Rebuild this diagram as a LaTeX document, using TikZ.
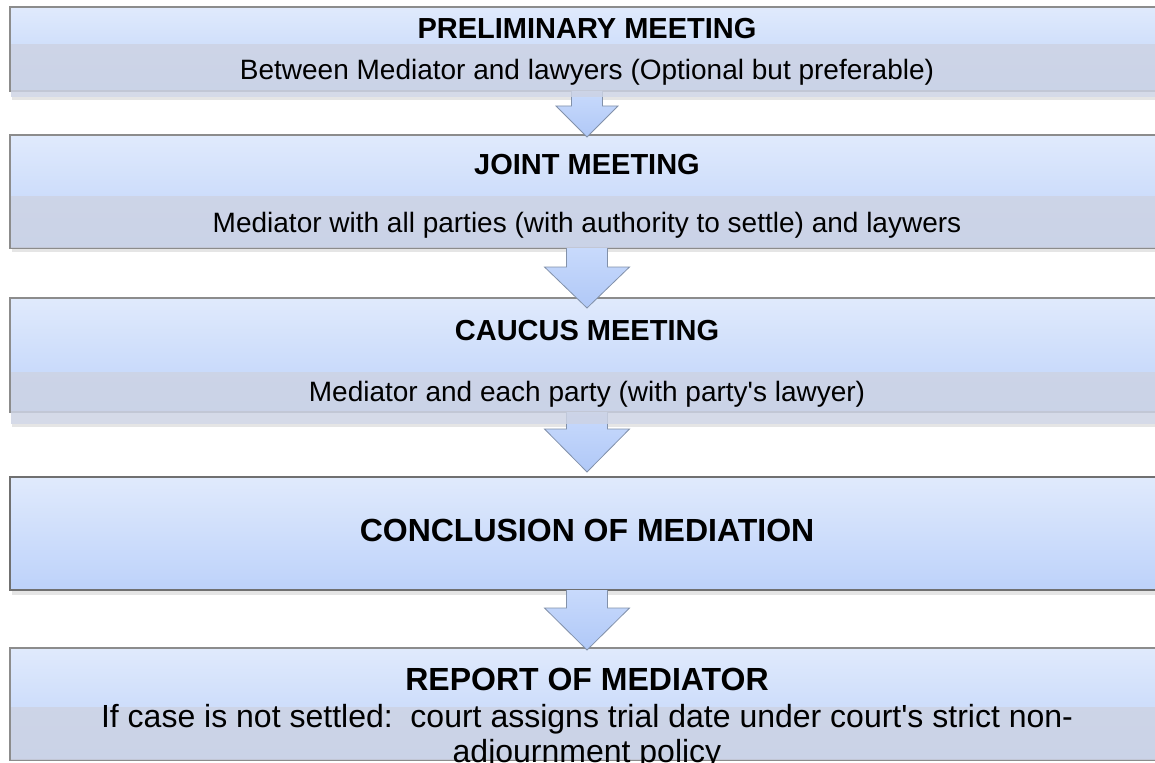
\documentclass[tikz,border=0pt]{standalone}
\usepackage{fontspec}
\setmainfont{Liberation Sans}
\usetikzlibrary{calc}
\definecolor{boxtop}{RGB}{224,234,252}
\definecolor{boxbot}{RGB}{189,210,250}
\definecolor{lowfill}{RGB}{205,211,228}
\definecolor{edgegray}{RGB}{140,140,140}
\definecolor{arrtop}{RGB}{200,218,252}
\definecolor{arrbot}{RGB}{176,200,247}
\definecolor{arredge}{RGB}{130,145,170}
\begin{document}
\begin{tikzpicture}[x=1pt,y=-1pt,
  outerbox/.style={rectangle, anchor=north west, inner sep=0pt, outer sep=0pt,
    minimum width=1154pt, top color=boxtop, bottom color=boxbot,
    draw=edgegray, line width=1.2pt},
  lowerbox/.style={rectangle, anchor=north west, inner sep=0pt, outer sep=0pt,
    minimum width=1153pt, fill=lowfill, fill opacity=0.84},
  shade/.style={fill=black, opacity=0.10},
  blockarrow/.style={top color=arrtop, bottom color=arrbot, draw=arredge,
    line width=0.8pt, line join=miter},
  title/.style={anchor=base, inner sep=0pt, font=\fontsize{29}{32}\selectfont\bfseries},
  bigtitle/.style={anchor=base, inner sep=0pt, font=\fontsize{32}{36}\selectfont\bfseries},
  body/.style={anchor=base, inner sep=0pt, font=\fontsize{28}{32}\selectfont},
  bigbody/.style={anchor=base, inner sep=0pt, align=center,
    font=\fontsize{32}{35}\selectfont},
]
\useasboundingbox (0,0) rectangle (1155,762);
\fill[white] (0,0) rectangle (1155,762);
\clip (0,0) rectangle (1155,762);

% shadows
\fill[shade] (12,97) rectangle (1164,100);
\fill[shade] (12,248) rectangle (1164,252);
\fill[shade] (12,424) rectangle (1164,427);
\fill[shade] (12,590) rectangle (1164,595);

% outer boxes
\node[outerbox, minimum height=84pt]  (b1) at (10,7)   {};
\node[outerbox, minimum height=113pt] (b2) at (10,135) {};
\node[outerbox, minimum height=114pt] (b3) at (10,298) {};
\node[outerbox, minimum height=113pt, draw=edgegray!80!black, line width=1.8pt] (b4) at (10,477) {};
\node[outerbox, minimum height=112pt] (b5) at (10,648) {};

% block arrows
\draw[blockarrow] ($(b1.south)+(-15.5,0)$) -- ($(b1.south)+(-15.5,15)$) -- ($(b1.south)+(-31,15)$)
  -- ($(b2.north)+(0,2)$) -- ($(b1.south)+(31,15)$) -- ($(b1.south)+(15.5,15)$) -- ($(b1.south)+(15.5,0)$);
\draw[blockarrow] ($(b2.south)+(-20.5,0)$) -- ($(b2.south)+(-20.5,19)$) -- ($(b2.south)+(-42.5,19)$)
  -- ($(b3.north)+(0,10)$) -- ($(b2.south)+(42.5,19)$) -- ($(b2.south)+(20.5,19)$) -- ($(b2.south)+(20.5,0)$);
\draw[blockarrow] ($(b3.south)+(-20.5,0)$) -- ($(b3.south)+(-20.5,17)$) -- ($(b3.south)+(-42.5,17)$)
  -- ($(b4.north)+(0,-5)$) -- ($(b3.south)+(42.5,17)$) -- ($(b3.south)+(20.5,17)$) -- ($(b3.south)+(20.5,0)$);
\draw[blockarrow] ($(b4.south)+(-20.5,0)$) -- ($(b4.south)+(-20.5,18)$) -- ($(b4.south)+(-42.5,18)$)
  -- ($(b5.north)+(0,2)$) -- ($(b4.south)+(42.5,18)$) -- ($(b4.south)+(20.5,18)$) -- ($(b4.south)+(20.5,0)$);

% lower text panels
\node[lowerbox, minimum height=53pt] (l1) at (11,44)  {};
\node[lowerbox, minimum height=52pt] (l2) at (11,196) {};
\node[lowerbox, minimum height=52pt] (l3) at (11,372) {};
\node[lowerbox, minimum height=53pt] (l5) at (11,707) {};

% texts
\node[title] (t1) at (587,39) {PRELIMINARY MEETING};
\node[body]  (s1) at (587,80) {Between Mediator and lawyers (Optional but preferable)};
\node[title] (t2) at (587,175) {JOINT MEETING};
\node[body]  (s2) at (587,232) {Mediator with all parties (with authority to settle) and laywers};
\node[title] (t3) at (587,340) {CAUCUS MEETING};
\node[body]  (s3) at (587,401) {Mediator and each party (with party\textquotesingle s lawyer)};
\node[bigtitle] (t4) at (587,541) {CONCLUSION OF MEDIATION};
\node[bigtitle] (t5) at (587,690) {REPORT OF MEDIATOR};
\node[bigbody] (s5) at (587,762) {If case is not settled:\ \ court assigns trial date under court\textquotesingle s strict non-\\adjournment policy};
\end{tikzpicture}
\end{document}
